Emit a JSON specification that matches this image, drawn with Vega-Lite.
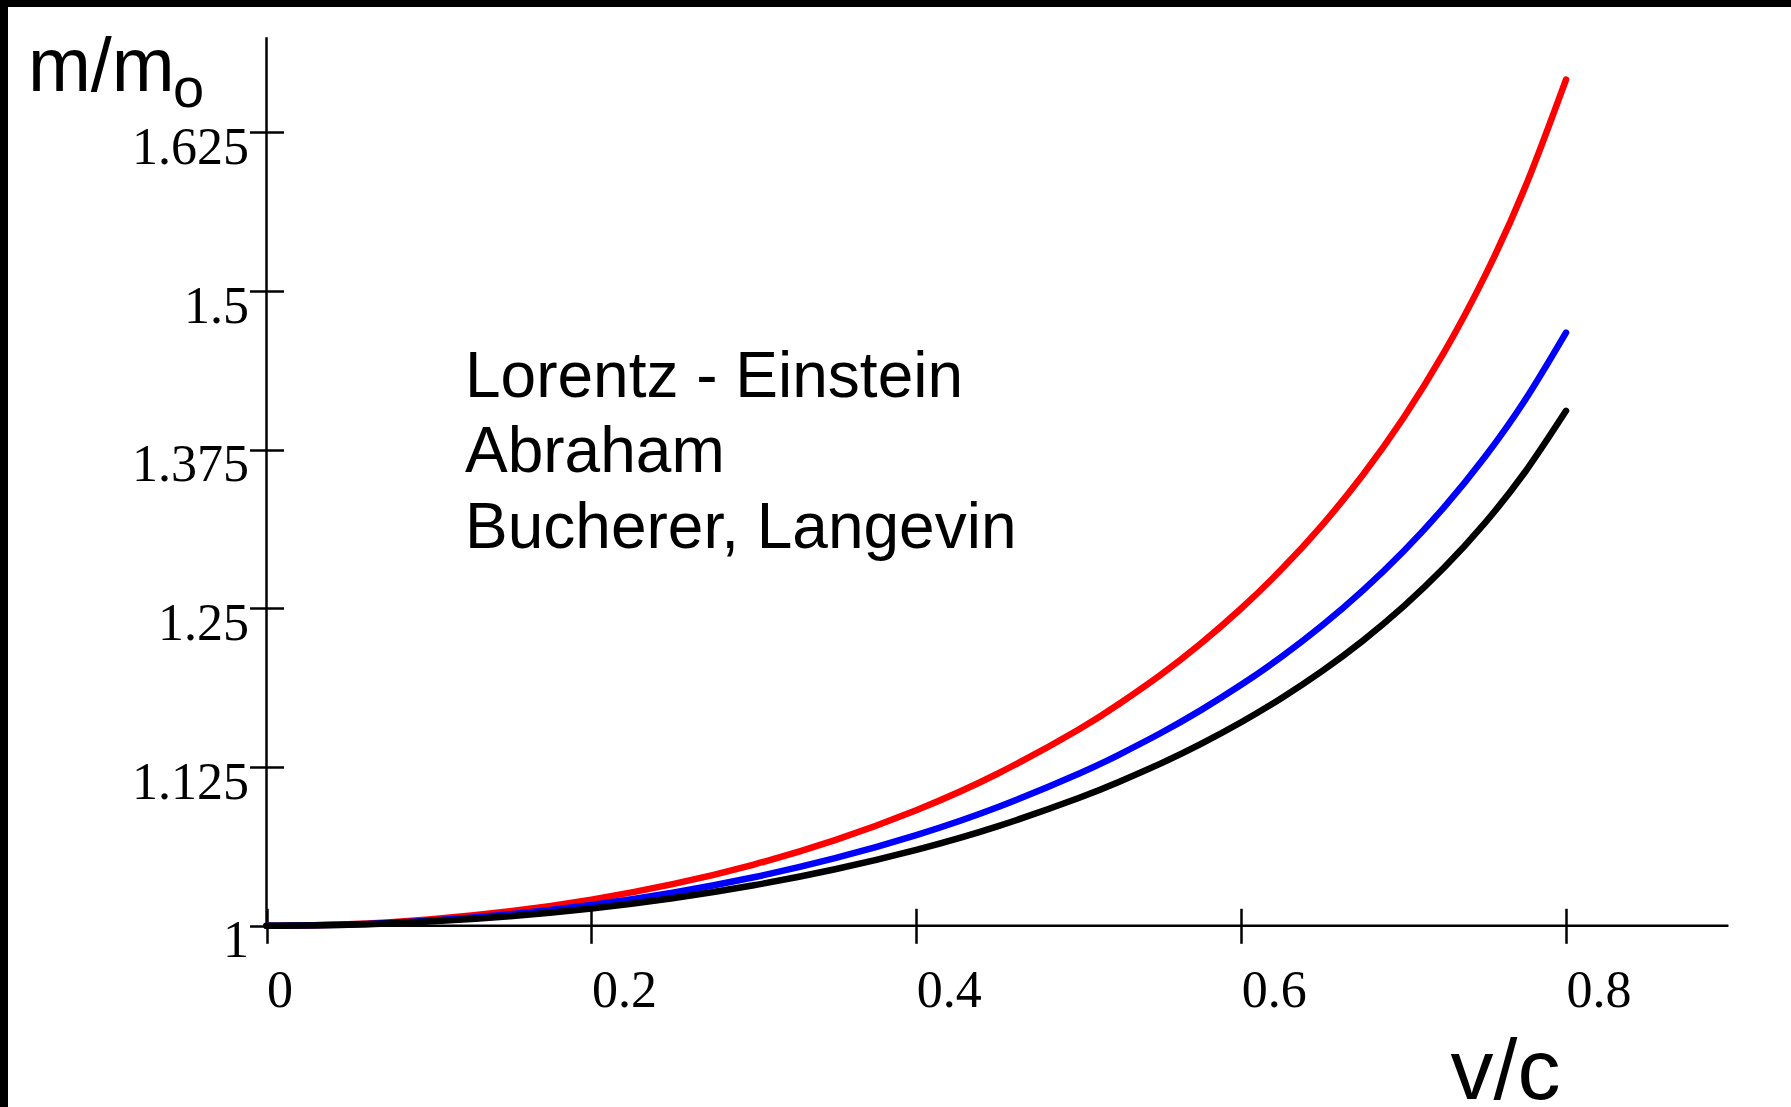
{
  "$schema": "https://vega.github.io/schema/vega-lite/v6.json",
  "width": 1783,
  "height": 1100,
  "autosize": {"type": "none"},
  "padding": {"left": 8, "top": 7, "right": 0, "bottom": 0},
  "background": "black",
  "config": {
    "view": {"fill": "white", "stroke": null}
  },
  "datasets": {
    "curves": [
      {"model": "Lorentz - Einstein", "v": 0, "m": 1},
      {"model": "Lorentz - Einstein", "v": 0.05, "m": 1.001252},
      {"model": "Lorentz - Einstein", "v": 0.1, "m": 1.005038},
      {"model": "Lorentz - Einstein", "v": 0.15, "m": 1.011443},
      {"model": "Lorentz - Einstein", "v": 0.2, "m": 1.020621},
      {"model": "Lorentz - Einstein", "v": 0.25, "m": 1.032796},
      {"model": "Lorentz - Einstein", "v": 0.3, "m": 1.048285},
      {"model": "Lorentz - Einstein", "v": 0.35, "m": 1.067521},
      {"model": "Lorentz - Einstein", "v": 0.4, "m": 1.091089},
      {"model": "Lorentz - Einstein", "v": 0.45, "m": 1.119785},
      {"model": "Lorentz - Einstein", "v": 0.5, "m": 1.154701},
      {"model": "Lorentz - Einstein", "v": 0.525, "m": 1.174959},
      {"model": "Lorentz - Einstein", "v": 0.55, "m": 1.197369},
      {"model": "Lorentz - Einstein", "v": 0.575, "m": 1.222264},
      {"model": "Lorentz - Einstein", "v": 0.6, "m": 1.25},
      {"model": "Lorentz - Einstein", "v": 0.625, "m": 1.281025},
      {"model": "Lorentz - Einstein", "v": 0.65, "m": 1.315903},
      {"model": "Lorentz - Einstein", "v": 0.675, "m": 1.35535},
      {"model": "Lorentz - Einstein", "v": 0.7, "m": 1.40028},
      {"model": "Lorentz - Einstein", "v": 0.725, "m": 1.451908},
      {"model": "Lorentz - Einstein", "v": 0.75, "m": 1.511858},
      {"model": "Lorentz - Einstein", "v": 0.775, "m": 1.582373},
      {"model": "Lorentz - Einstein", "v": 0.8, "m": 1.666667},
      {"model": "Abraham", "v": 0, "m": 1},
      {"model": "Abraham", "v": 0.05, "m": 1.001002},
      {"model": "Abraham", "v": 0.1, "m": 1.004026},
      {"model": "Abraham", "v": 0.15, "m": 1.009132},
      {"model": "Abraham", "v": 0.2, "m": 1.016424},
      {"model": "Abraham", "v": 0.25, "m": 1.026053},
      {"model": "Abraham", "v": 0.3, "m": 1.038232},
      {"model": "Abraham", "v": 0.35, "m": 1.053247},
      {"model": "Abraham", "v": 0.4, "m": 1.071478},
      {"model": "Abraham", "v": 0.45, "m": 1.093433},
      {"model": "Abraham", "v": 0.5, "m": 1.119796},
      {"model": "Abraham", "v": 0.525, "m": 1.134911},
      {"model": "Abraham", "v": 0.55, "m": 1.151503},
      {"model": "Abraham", "v": 0.575, "m": 1.169751},
      {"model": "Abraham", "v": 0.6, "m": 1.189862},
      {"model": "Abraham", "v": 0.625, "m": 1.212096},
      {"model": "Abraham", "v": 0.65, "m": 1.236766},
      {"model": "Abraham", "v": 0.675, "m": 1.264262},
      {"model": "Abraham", "v": 0.7, "m": 1.295068},
      {"model": "Abraham", "v": 0.725, "m": 1.329817},
      {"model": "Abraham", "v": 0.75, "m": 1.36932},
      {"model": "Abraham", "v": 0.775, "m": 1.41467},
      {"model": "Abraham", "v": 0.8, "m": 1.467369},
      {"model": "Bucherer, Langevin", "v": 0, "m": 1},
      {"model": "Bucherer, Langevin", "v": 0.05, "m": 1.000835},
      {"model": "Bucherer, Langevin", "v": 0.1, "m": 1.003356},
      {"model": "Bucherer, Langevin", "v": 0.15, "m": 1.007615},
      {"model": "Bucherer, Langevin", "v": 0.2, "m": 1.0137},
      {"model": "Bucherer, Langevin", "v": 0.25, "m": 1.021746},
      {"model": "Bucherer, Langevin", "v": 0.3, "m": 1.031936},
      {"model": "Bucherer, Langevin", "v": 0.35, "m": 1.044522},
      {"model": "Bucherer, Langevin", "v": 0.4, "m": 1.05984},
      {"model": "Bucherer, Langevin", "v": 0.45, "m": 1.078342},
      {"model": "Bucherer, Langevin", "v": 0.5, "m": 1.100642},
      {"model": "Bucherer, Langevin", "v": 0.525, "m": 1.113471},
      {"model": "Bucherer, Langevin", "v": 0.55, "m": 1.127594},
      {"model": "Bucherer, Langevin", "v": 0.575, "m": 1.143169},
      {"model": "Bucherer, Langevin", "v": 0.6, "m": 1.160397},
      {"model": "Bucherer, Langevin", "v": 0.625, "m": 1.179519},
      {"model": "Bucherer, Langevin", "v": 0.65, "m": 1.20081},
      {"model": "Bucherer, Langevin", "v": 0.675, "m": 1.224711},
      {"model": "Bucherer, Langevin", "v": 0.7, "m": 1.25163},
      {"model": "Bucherer, Langevin", "v": 0.725, "m": 1.282211},
      {"model": "Bucherer, Langevin", "v": 0.75, "m": 1.317268},
      {"model": "Bucherer, Langevin", "v": 0.775, "m": 1.357916},
      {"model": "Bucherer, Langevin", "v": 0.8, "m": 1.405721}
    ],
    "axisLines": [
      {"v": 0, "v2": 0, "m": 1, "m2": 1.7},
      {"v": 0, "v2": 0.9, "m": 1, "m2": 1}
    ],
    "models": [
      {"label": "Lorentz - Einstein", "v": 0.1222, "m": 1.41684},
      {"label": "Abraham", "v": 0.1222, "m": 1.35752},
      {"label": "Bucherer, Langevin", "v": 0.1222, "m": 1.29804}
    ],
    "subscript": [
      {"label": "o", "v": -0.0576, "m": 1.64531}
    ]
  },
  "encoding": {
    "x": {
      "field": "v",
      "type": "quantitative",
      "scale": {"domain": [-0.15914, 0.9385], "nice": false, "zero": false},
      "axis": {
        "orient": "bottom",
        "offset": -198.7,
        "values": [0, 0.2, 0.4, 0.6, 0.8],
        "labelExpr": "format(datum.value, '.4~g')",
        "domain": false,
        "grid": false,
        "tickSize": 35,
        "tickWidth": 2.5,
        "tickColor": "black",
        "labelFont": "Liberation Serif",
        "labelFontSize": 52,
        "labelColor": "black",
        "labelAlign": "left",
        "labelBaseline": "alphabetic",
        "labelPadding": 62.7,
        "labelOverlap": false,
        "labelBound": false,
        "labelFlush": false,
        "title": "v/c",
        "titleFont": "Liberation Sans",
        "titleFontSize": 86,
        "titleFontWeight": "normal",
        "titleColor": "black",
        "titleAlign": "left",
        "titleBaseline": "alphabetic",
        "titleAngle": 0,
        "titleX": 1442,
        "titleY": 189.7
      }
    },
    "y": {
      "field": "m",
      "type": "quantitative",
      "scale": {"domain": [0.85725, 1.72387], "nice": false, "zero": false},
      "axis": {
        "orient": "left",
        "offset": -275.5,
        "values": [1, 1.125, 1.25, 1.375, 1.5, 1.625],
        "labelExpr": "format(datum.value, '.4~g')",
        "domain": false,
        "grid": false,
        "tickSize": 34,
        "tickWidth": 2.5,
        "tickColor": "black",
        "labelFont": "Liberation Serif",
        "labelFontSize": 52,
        "labelColor": "black",
        "labelAlign": "right",
        "labelBaseline": "alphabetic",
        "labelPadding": 1,
        "labelOffset": 31,
        "labelOverlap": false,
        "labelBound": false,
        "labelFlush": false,
        "title": "m/m",
        "titleFont": "Liberation Sans",
        "titleFontSize": 75.5,
        "titleFontWeight": "normal",
        "titleColor": "black",
        "titleAlign": "left",
        "titleBaseline": "alphabetic",
        "titleAngle": 0,
        "titleX": -256.1,
        "titleY": 83.7
      }
    }
  },
  "layer": [
    {
      "data": {"name": "axisLines"},
      "mark": {"type": "rule", "color": "black", "strokeWidth": 2.5},
      "encoding": {
        "x2": {"field": "v2"},
        "y2": {"field": "m2"}
      }
    },
    {
      "data": {"name": "curves"},
      "mark": {"type": "line", "interpolate": "natural", "strokeCap": "round", "strokeJoin": "round"},
      "encoding": {
        "color": {
          "field": "model",
          "type": "nominal",
          "scale": {
            "domain": ["Lorentz - Einstein", "Abraham", "Bucherer, Langevin"],
            "range": ["#ff0000", "#0000ff", "#000000"]
          },
          "legend": null
        },
        "strokeWidth": {
          "field": "model",
          "type": "nominal",
          "scale": {
            "domain": ["Lorentz - Einstein", "Abraham", "Bucherer, Langevin"],
            "range": [6.5, 6.5, 7.5]
          },
          "legend": null
        }
      }
    },
    {
      "data": {"name": "models"},
      "mark": {
        "type": "text",
        "font": "Liberation Sans",
        "fontSize": 64,
        "color": "black",
        "align": "left",
        "baseline": "alphabetic"
      },
      "encoding": {
        "text": {"field": "label"}
      }
    },
    {
      "data": {"name": "subscript"},
      "mark": {
        "type": "text",
        "font": "Liberation Sans",
        "fontSize": 56,
        "color": "black",
        "align": "left",
        "baseline": "alphabetic"
      },
      "encoding": {
        "text": {"field": "label"}
      }
    }
  ]
}
